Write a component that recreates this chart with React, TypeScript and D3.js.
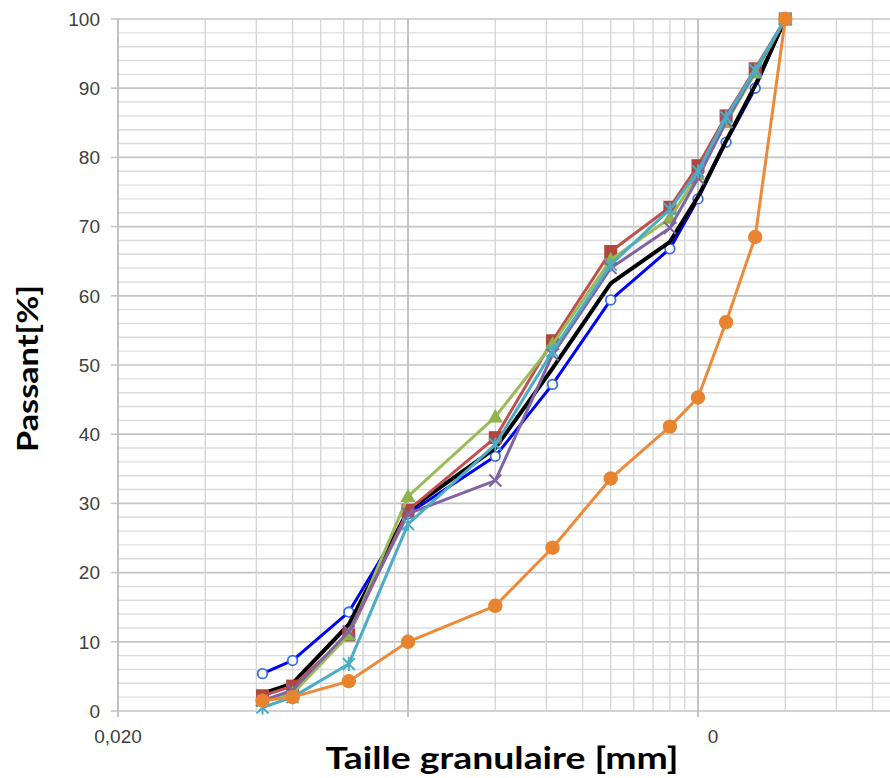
import React from "react";
import * as d3 from "d3";

// Sieve openings [mm]
const sizes = [0.063, 0.08, 0.125, 0.2, 0.4, 0.63, 1.0, 1.6, 2.0, 2.5, 3.15, 4.0];

// Passing percentages per sample
const blueVals = [5.4, 7.3, 14.3, 28.5, 36.8, 47.2, 59.4, 66.8, 74.0, 82.2, 90.0, 100];
const blackVals = [2.5, 4.0, 12.5, 29.0, 38.0, 49.5, 61.8, 67.8, 74.3, 82.4, 90.4, 100];
const redVals = [2.2, 3.6, 11.0, 29.0, 39.5, 53.5, 66.4, 72.8, 78.8, 86.0, 92.8, 100];
const greenVals = [1.5, 2.5, 11.0, 31.0, 42.5, 53.0, 65.2, 71.2, 77.5, 85.0, 92.2, 100];
const purpleVals = [1.5, 3.0, 11.5, 28.5, 33.3, 51.5, 64.0, 69.8, 77.0, 85.2, 92.5, 100];
const tealVals = [0.5, 2.0, 6.8, 27.0, 38.5, 52.0, 64.5, 72.5, 78.0, 85.8, 92.6, 100];
const orangeVals = [1.5, 2.0, 4.3, 10.0, 15.2, 23.6, 33.6, 41.1, 45.3, 56.2, 68.5, 100];

const yTicks = [0, 10, 20, 30, 40, 50, 60, 70, 80, 90, 100];

type Marker = "none" | "openCircle" | "square" | "triangle" | "x" | "star" | "dot";
interface Series { vals: number[]; color: string; width: number; marker: Marker; mColor: string; }

const series: Series[] = [
  { vals: blueVals, color: "#0000ff", width: 3, marker: "openCircle", mColor: "#3a6fe0" },
  { vals: blackVals, color: "#000000", width: 4, marker: "none", mColor: "#000" },
  { vals: redVals, color: "#c0504d", width: 3, marker: "square", mColor: "#b2463f" },
  { vals: greenVals, color: "#9bbb59", width: 3, marker: "triangle", mColor: "#8fb24a" },
  { vals: purpleVals, color: "#8064a2", width: 3, marker: "x", mColor: "#8064a2" },
  { vals: tealVals, color: "#4bacc6", width: 3, marker: "star", mColor: "#4bacc6" },
  { vals: orangeVals, color: "#ed8a3a", width: 3, marker: "dot", mColor: "#e8842f" },
];

const W = 890, H = 778;
const left = 118, top = 19, bottom = 711;
const tickFont = "Liberation Sans, Arial, sans-serif";

export default function App() {
  const x = d3.scaleLog().domain([0.02, 20]).range([left, left + 870]);
  const y = d3.scaleLinear().domain([0, 100]).range([bottom, top]);

  // vertical grid: log minor lines at k * decade start
  const vLines: { v: number; major: boolean }[] = [];
  [0.02, 0.2, 2].forEach((d0) => {
    for (let k = 1; k < 10; k++) vLines.push({ v: d0 * k, major: k === 1 });
  });
  vLines.push({ v: 20, major: true });
  const hLines = d3.range(0, 101, 2);

  const line = d3.line<[number, number]>().x((d) => x(d[0])).y((d) => y(d[1]));

  const drawMarker = (s: Series, cx: number, cy: number, key: string) => {
    switch (s.marker) {
      case "openCircle":
        return <circle key={key} cx={cx} cy={cy} r={4.8} fill="#fff" stroke={s.mColor} strokeWidth={1.8} />;
      case "square":
        return <rect key={key} x={cx - 6.5} y={cy - 6.5} width={13} height={13} fill={s.mColor} />;
      case "triangle":
        return <path key={key} d={`M${cx},${cy - 8}L${cx + 7.5},${cy + 5.5}L${cx - 7.5},${cy + 5.5}Z`} fill={s.mColor} />;
      case "x":
        return <path key={key} d={`M${cx - 6},${cy - 6}L${cx + 6},${cy + 6}M${cx + 6},${cy - 6}L${cx - 6},${cy + 6}`} stroke={s.mColor} strokeWidth={2} />;
      case "star":
        return <path key={key} d={`M${cx - 6},${cy - 6}L${cx + 6},${cy + 6}M${cx + 6},${cy - 6}L${cx - 6},${cy + 6}M${cx},${cy - 7}L${cx},${cy + 7}`} stroke={s.mColor} strokeWidth={2} />;
      case "dot":
        return <circle key={key} cx={cx} cy={cy} r={7.2} fill={s.mColor} />;
      default:
        return null;
    }
  };

  return (
    <svg width={W} height={H} style={{ position: "absolute", left: 0, top: 0, background: "#fff" }}>
      <rect width={W} height={H} fill="#fff" />
      {/* horizontal grid */}
      {hLines.map((v) => (
        <line key={"h" + v} x1={left} x2={W} y1={y(v)} y2={y(v)}
          stroke={v % 10 === 0 ? "#c4c4c4" : "#dcdcdc"} strokeWidth={v % 10 === 0 ? 1.7 : 1.4} />
      ))}
      {/* vertical grid */}
      {vLines.map((g, i) => (
        <line key={"v" + i} x1={x(g.v)} x2={x(g.v)} y1={top} y2={bottom + (g.major ? 6 : 0)}
          stroke={g.major ? "#bdbdbd" : "#d6d6d6"} strokeWidth={g.major ? 1.8 : 1.4} />
      ))}
      {/* y tick marks */}
      {yTicks.map((v) => (
        <line key={"t" + v} x1={left - 7} x2={left} y1={y(v)} y2={y(v)} stroke="#c4c4c4" strokeWidth={1.6} />
      ))}
      {/* y tick labels */}
      {yTicks.map((v) => (
        <text key={"l" + v} x={100} y={y(v)} dy="0.36em" textAnchor="end"
          fontFamily={tickFont} fontSize={19} fill="#404040">{v}</text>
      ))}
      {/* x tick labels */}
      <text x={x(0.02)} y={743} textAnchor="middle" fontFamily={tickFont} fontSize={19} fill="#404040">0,020</text>
      <text x={x(2) + 15} y={743} textAnchor="middle" fontFamily={tickFont} fontSize={19} fill="#404040">0</text>

      {/* curves */}
      {series.map((s, si) => {
        const pts = sizes.map((sz, i) => [sz, s.vals[i]] as [number, number]);
        return (
          <g key={"s" + si}>
            <path d={line(pts) || ""} fill="none" stroke={s.color} strokeWidth={s.width} strokeLinejoin="round" />
            {pts.map((p, i) => drawMarker(s, x(p[0]), y(p[1]), si + "-" + i))}
          </g>
        );
      })}

      {/* axis titles */}
      <text x={502} y={769} textAnchor="middle" fontFamily="Lato, 'Open Sans', sans-serif" fontWeight="bold"
        fontSize={31} fill="#000" textLength={353} lengthAdjust="spacingAndGlyphs">Taille granulaire [mm]</text>
      <text transform="translate(38,368.5) rotate(-90)" textAnchor="middle" fontFamily="Lato, 'Open Sans', sans-serif"
        fontWeight="bold" fontSize={29} fill="#000" textLength={167} lengthAdjust="spacingAndGlyphs">Passant[%]</text>
    </svg>
  );
}
